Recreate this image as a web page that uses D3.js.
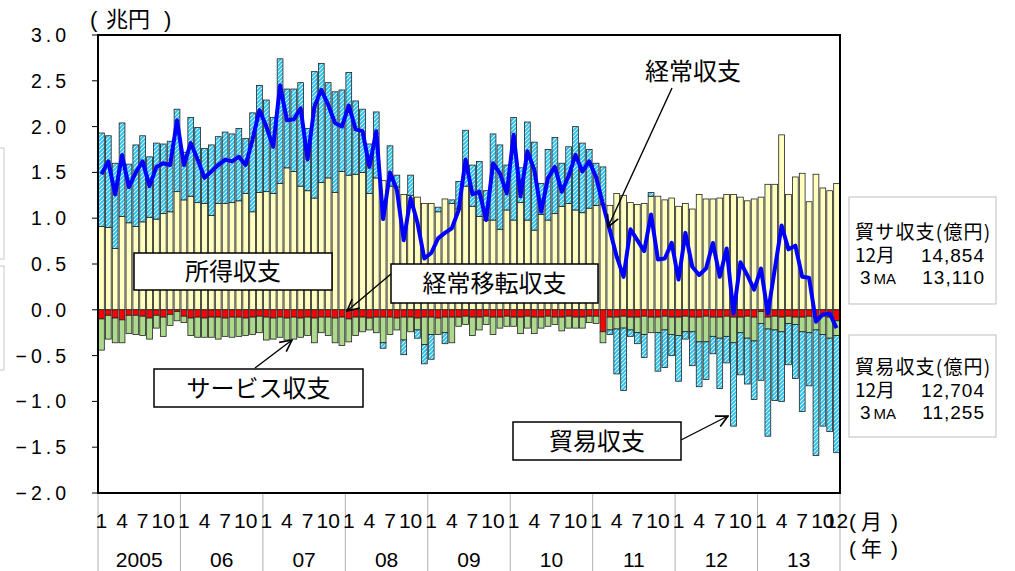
<!DOCTYPE html>
<html>
<head>
<meta charset="utf-8">
<script src="https://cdn.jsdelivr.net/npm/d3@7"></script>
<style>
  body { margin: 0; background: #fff; }
  svg { display: block; }
  text { font-family: "Liberation Sans", Arial, sans-serif; fill: #000; }
  .jp { font-family: "Noto Sans CJK JP", "Noto Sans", sans-serif; }
</style>
</head>
<body>
<div id="chart"></div>
<script>
// monthly, Jan 2005 .. Dec 2013 (兆円)
const yearLabels = ["2005", "06", "07", "08", "09", "10", "11", "12", "13"];
const monthLabels = ["1", "4", "7", "10"];
const lastMonthLabel = "12";
const yTicks = [3.0, 2.5, 2.0, 1.5, 1.0, 0.5, 0.0, -0.5, -1.0, -1.5, -2.0];

// 所得収支
const income = [
  0.91, 0.90, 0.67, 1.02, 0.95, 0.91, 0.96, 1.01, 0.99, 1.05, 1.07, 1.29,
  1.20, 1.24, 1.17, 1.16, 1.03, 1.16, 1.16, 1.17, 1.19, 1.27, 1.07, 1.28,
  1.29, 1.27, 1.38, 1.55, 1.51, 1.35, 1.30, 1.22, 1.39, 1.44, 1.28, 1.51,
  1.47, 1.48, 1.50, 1.27, 1.44, 1.41, 1.35, 1.34, 1.26, 1.25, 1.23, 1.16,
  1.16, 1.07, 1.21, 1.16, 1.10, 1.35, 1.13, 1.02, 0.98, 0.98, 0.88, 1.09,
  0.98, 1.17, 0.98, 0.87, 1.04, 0.98, 1.05, 1.13, 1.16, 1.09, 1.06, 1.11,
  1.14, 1.15, 1.14, 1.27, 1.25, 1.17, 1.15, 1.16, 1.24, 1.24, 1.20, 1.22,
  1.13, 1.16, 1.10, 1.26, 1.21, 1.21, 1.22, 1.26, 1.26, 1.23, 1.19, 1.21,
  1.23, 1.37, 1.37, 1.91, 1.26, 1.45, 1.49, 1.18, 1.48, 1.33, 1.30, 1.38
];
// 貿易収支
const trade = [
  1.02, 1.00, 0.93, 1.02, 0.64, 0.89, 0.94, 0.66, 0.83, 0.76, 0.77, 0.90,
  0.52, 0.86, 0.82, 0.60, 0.77, 0.73, 0.78, 0.75, 0.79, 0.60, 1.08, 1.17,
  1.00, 0.83, 1.36, 0.86, 0.90, 1.13, 0.68, 1.38, 1.30, 1.04, 1.10, 0.89,
  1.12, 0.80, 0.69, 0.54, 0.72, -0.06, 0.44, 0.13, -0.16, 0.22, -0.09, -0.21,
  -0.27, 0.05, -0.12, 0.04, 0.30, 0.61, 0.45, 0.60, 0.32, 0.94, 0.92, 0.49,
  1.12, 0.38, 1.07, 0.96, 0.34, 0.77, 0.83, 0.47, 0.62, 0.91, 0.76, 0.64,
  0.46, 0.41, -0.05, -0.49, -0.68, -0.07, -0.12, -0.25, 0.04, -0.42, -0.41, -0.23,
  -0.50, -0.08, -0.37, -0.49, -0.41, -0.19, -0.55, -0.29, -0.91, -0.46, -0.50, -0.64,
  -0.62, -1.17, -0.77, -0.76, -0.45, -0.59, -0.87, -0.58, -1.37, -1.00, -1.02, -1.28
];
// サービス収支
const services = [
  -0.34, -0.26, -0.27, -0.25, -0.20, -0.21, -0.21, -0.23, -0.14, -0.21, -0.12, -0.10,
  -0.07, -0.19, -0.22, -0.21, -0.22, -0.24, -0.20, -0.22, -0.21, -0.19, -0.19, -0.18,
  -0.25, -0.23, -0.22, -0.24, -0.24, -0.21, -0.20, -0.27, -0.17, -0.20, -0.27, -0.31,
  -0.25, -0.20, -0.16, -0.13, -0.17, -0.28, -0.19, -0.13, -0.25, -0.16, -0.13, -0.30,
  -0.19, -0.18, -0.17, -0.28, -0.10, -0.09, -0.20, -0.14, -0.09, -0.19, -0.12, -0.11,
  -0.10, -0.18, -0.13, -0.18, -0.12, -0.11, -0.08, -0.15, -0.13, -0.12, -0.12, -0.07,
  -0.08, -0.12, -0.14, -0.13, -0.13, -0.14, -0.17, -0.20, -0.17, -0.17, -0.15, -0.19,
  -0.20, -0.17, -0.16, -0.27, -0.28, -0.21, -0.23, -0.22, -0.28, -0.17, -0.24, -0.26,
  -0.13, -0.13, -0.15, -0.16, -0.08, -0.08, -0.16, -0.18, -0.14, -0.20, -0.23, -0.16
];
// 経常移転収支
const transfers = [
  -0.10, -0.06, -0.09, -0.11, -0.06, -0.06, -0.07, -0.09, -0.06, -0.08, -0.05, -0.02,
  -0.07, -0.09, -0.08, -0.09, -0.08, -0.08, -0.09, -0.08, -0.08, -0.09, -0.08, -0.07,
  -0.08, -0.09, -0.08, -0.09, -0.08, -0.09, -0.08, -0.09, -0.08, -0.08, -0.09, -0.08,
  -0.10, -0.08, -0.08, -0.09, -0.08, -0.08, -0.08, -0.09, -0.08, -0.08, -0.09, -0.08,
  -0.08, -0.09, -0.08, -0.08, -0.08, -0.07, -0.08, -0.08, -0.07, -0.08, -0.08, -0.07,
  -0.08, -0.08, -0.07, -0.08, -0.08, -0.07, -0.08, -0.08, -0.07, -0.08, -0.08, -0.07,
  -0.07, -0.24, -0.08, -0.08, -0.07, -0.08, -0.08, -0.07, -0.08, -0.08, -0.07, -0.08,
  -0.08, -0.07, -0.08, -0.08, -0.07, -0.08, -0.08, -0.07, -0.08, -0.08, -0.07, -0.08,
  -0.02, -0.08, -0.07, -0.08, -0.07, -0.08, -0.08, -0.07, -0.08, -0.07, -0.08, -0.12
];
// 経常収支 (line)
const currentAcct = [
  1.48, 1.62, 1.26, 1.69, 1.34, 1.50, 1.62, 1.35, 1.56, 1.60, 1.58, 2.07,
  1.58, 1.82, 1.64, 1.44, 1.51, 1.58, 1.64, 1.62, 1.67, 1.58, 1.86, 2.18,
  2.00, 1.78, 2.45, 2.07, 2.08, 2.20, 1.64, 2.22, 2.40, 2.24, 2.04, 2.00,
  2.23, 1.97, 1.95, 1.56, 1.95, 0.99, 1.50, 1.31, 0.76, 1.22, 0.95, 0.56,
  0.62, 0.78, 0.84, 0.89, 1.09, 1.64, 1.26, 1.29, 0.98, 1.60, 1.49, 1.27,
  1.91, 1.24, 1.73, 1.53, 1.07, 1.44, 1.56, 1.29, 1.46, 1.69, 1.51, 1.62,
  1.45, 1.15, 0.87, 0.58, 0.36, 0.88, 0.76, 0.64, 1.04, 0.55, 0.56, 0.73,
  0.33, 0.84, 0.47, 0.38, 0.45, 0.73, 0.36, 0.67, -0.04, 0.52, 0.38, 0.22,
  0.45, -0.04, 0.44, 0.92, 0.66, 0.70, 0.36, 0.35, -0.13, -0.05, -0.04, -0.20
];

const boxTradeServ = ["貿サ収支(億円)", "14,854", "13,110"];
const boxTrade = ["貿易収支(億円)", "12,704", "11,255"];

const width = 1015, height = 571;
const plotLeft = 98, plotRight = 840, plotTop = 35, plotBottom = 493;

const svg = d3.select("#chart").append("svg")
    .attr("width", width)
    .attr("height", height);

const defs = svg.append("defs");
const hatch = defs.append("pattern")
    .attr("id", "hatch")
    .attr("patternUnits", "userSpaceOnUse")
    .attr("width", 4).attr("height", 4);
hatch.append("rect").attr("width", 4).attr("height", 4).attr("fill", "#ffffff");
hatch.append("path")
    .attr("d", "M-1,1 l2,-2 M0,4 l4,-4 M3,5 l2,-2")
    .attr("stroke", "#2fc4f0")
    .attr("stroke-width", 2);

defs.append("marker")
    .attr("id", "arrow")
    .attr("markerUnits", "userSpaceOnUse")
    .attr("viewBox", "0 0 12 12")
    .attr("refX", 11).attr("refY", 6)
    .attr("markerWidth", 14).attr("markerHeight", 14)
    .attr("orient", "auto")
  .append("path")
    .attr("d", "M1,1 L11,6 L1,11")
    .attr("fill", "none")
    .attr("stroke", "#000")
    .attr("stroke-width", 1.4);

const n = income.length;
const x = d3.scaleBand().domain(d3.range(n)).range([plotLeft, plotRight])
    .paddingInner(0.16).paddingOuter(0.08);
const y = d3.scaleLinear().domain([-2, 3]).range([plotBottom, plotTop]);

const rows = d3.range(n).map(i => ({
  i: i,
  income: income[i],
  transfers: transfers[i],
  services: services[i],
  trade: trade[i]
}));

const keys = ["income", "transfers", "services", "trade"];
const fills = {
  income: "#ffffc0",
  transfers: "#ff0000",
  services: "#acd98c",
  trade: "url(#hatch)"
};

const series = d3.stack().keys(keys).offset(d3.stackOffsetDiverging)(rows);

// partial boxes cut at the left edge
svg.append("rect").attr("x", -10).attr("y", 148).attr("width", 14).attr("height", 111)
    .attr("fill", "#fff").attr("stroke", "#c8c8c8");
svg.append("rect").attr("x", -10).attr("y", 266).attr("width", 14).attr("height", 104)
    .attr("fill", "#fff").attr("stroke", "#c8c8c8");

// bars
svg.append("g")
  .selectAll("g")
  .data(series)
  .join("g")
    .attr("fill", d => fills[d.key])
  .selectAll("rect")
  .data(d => d.filter(s => Math.abs(s[1] - s[0]) > 0.001))
  .join("rect")
    .attr("x", d => x(d.data.i))
    .attr("width", x.bandwidth())
    .attr("y", d => y(Math.max(d[0], d[1])))
    .attr("height", d => Math.abs(y(d[0]) - y(d[1])))
    .attr("stroke", "#222")
    .attr("stroke-width", 0.8);

// current account line
const line = d3.line()
    .x((d, i) => x(i) + x.bandwidth() / 2)
    .y(d => y(d));

svg.append("path")
    .datum(currentAcct)
    .attr("d", line)
    .attr("fill", "none")
    .attr("stroke", "#0000ff")
    .attr("stroke-width", 4)
    .attr("stroke-linejoin", "round");

// frame
svg.append("rect")
    .attr("x", plotLeft).attr("y", plotTop)
    .attr("width", plotRight - plotLeft).attr("height", plotBottom - plotTop)
    .attr("fill", "none")
    .attr("stroke", "#000")
    .attr("stroke-width", 2);

// y axis ticks and labels
svg.append("g").selectAll("line")
  .data(yTicks)
  .join("line")
    .attr("x1", plotLeft - 6).attr("x2", plotLeft)
    .attr("y1", d => y(d)).attr("y2", d => y(d))
    .attr("stroke", "#000");

svg.append("g").selectAll("text")
  .data(yTicks)
  .join("text")
    .attr("x", 70)
    .attr("y", d => y(d) + 7)
    .attr("text-anchor", "end")
    .attr("font-size", 19.5)
    .attr("letter-spacing", 4)
    .text(d => d3.format(".1f")(d));

// unit labels: parentheses set apart as in the original
function parenLabel(xl, xm, xr, yb, size, word) {
  svg.append("text").attr("x", xl).attr("y", yb).attr("font-size", size).text("(");
  svg.append("text").attr("class", "jp").attr("x", xm).attr("y", yb).attr("font-size", size).text(word);
  svg.append("text").attr("x", xr).attr("y", yb).attr("font-size", size).text(")");
}
parenLabel(90, 106, 164, 27, 22, "兆円");
parenLabel(849, 861, 891, 529, 21, "月");
parenLabel(849, 861, 891, 556, 21, "年");

// x axis: year separators, month and year labels
const yearStart = yearLabels.map((d, k) => k * 12);
svg.append("g").selectAll("line")
  .data(yearStart.concat([n]))
  .join("line")
    .attr("x1", d => plotLeft + (plotRight - plotLeft) * d / n)
    .attr("x2", d => plotLeft + (plotRight - plotLeft) * d / n)
    .attr("y1", plotBottom + 1).attr("y2", height)
    .attr("stroke", "#b0b0b0");

const monthTickData = [];
yearStart.forEach(s => monthLabels.forEach((m, j) => monthTickData.push({ i: s + j * 3, label: m })));
monthTickData.push({ i: n - 1, label: lastMonthLabel });

svg.append("g").selectAll("text")
  .data(monthTickData)
  .join("text")
    .attr("x", d => x(d.i) + x.bandwidth() / 2)
    .attr("y", 528)
    .attr("text-anchor", "middle")
    .attr("font-size", 21)
    .text(d => d.label);

svg.append("g").selectAll("text")
  .data(yearLabels)
  .join("text")
    .attr("x", (d, k) => plotLeft + (plotRight - plotLeft) * (k * 12 + 6) / n)
    .attr("y", 567)
    .attr("text-anchor", "middle")
    .attr("font-size", 21)
    .text(d => d);

// label boxes
function labelBox(x0, y0, w, h, label) {
  svg.append("rect")
      .attr("x", x0).attr("y", y0).attr("width", w).attr("height", h)
      .attr("fill", "#fff").attr("stroke", "#000").attr("stroke-width", 1.5);
  svg.append("text").attr("class", "jp")
      .attr("x", x0 + w / 2).attr("y", y0 + h / 2 + 8.5)
      .attr("text-anchor", "middle")
      .attr("font-size", 24)
      .text(label);
}
function arrow(x1, y1, x2, y2) {
  svg.append("line")
      .attr("x1", x1).attr("y1", y1).attr("x2", x2).attr("y2", y2)
      .attr("stroke", "#000").attr("stroke-width", 1.4)
      .attr("marker-end", "url(#arrow)");
}

labelBox(134, 253, 198, 37, "所得収支");
labelBox(391, 264, 207, 39, "経常移転収支");
arrow(391, 274, 347, 311);
labelBox(154, 369, 209, 38, "サービス収支");
arrow(255, 368, 292, 340);
labelBox(513, 422, 168, 38, "貿易収支");
arrow(681, 440, 728, 416);

svg.append("text").attr("class", "jp")
    .attr("x", 693).attr("y", 80)
    .attr("text-anchor", "middle")
    .attr("font-size", 24)
    .text("経常収支");
arrow(672, 88, 608, 227);

// info boxes on the right
function infoBox(y0, h, vals) {
  svg.append("rect")
      .attr("x", 849).attr("y", y0).attr("width", 147).attr("height", h)
      .attr("fill", "#fff").attr("stroke", "#bdbdbd");
  const t0 = y0 + (h - 66) / 2 + 21;
  svg.append("text").attr("class", "jp")
      .attr("x", 855).attr("y", t0)
      .attr("font-size", 19).attr("letter-spacing", 1.2)
      .text(vals[0]);
  svg.append("text").attr("class", "jp")
      .attr("x", 855).attr("y", t0 + 23)
      .attr("font-size", 19)
      .text("12月");
  svg.append("text")
      .attr("x", 985).attr("y", t0 + 23)
      .attr("text-anchor", "end")
      .attr("font-size", 19).attr("letter-spacing", 1)
      .text(vals[1]);
  const ma = svg.append("text")
      .attr("x", 860).attr("y", t0 + 45)
      .attr("font-size", 19);
  ma.append("tspan").text("3");
  ma.append("tspan").attr("dx", 3).attr("font-size", 15).text("MA");
  svg.append("text")
      .attr("x", 985).attr("y", t0 + 45)
      .attr("text-anchor", "end")
      .attr("font-size", 19).attr("letter-spacing", 1)
      .text(vals[2]);
}
infoBox(197, 107, boxTradeServ);
infoBox(335, 102, boxTrade);
</script>
</body>
</html>
